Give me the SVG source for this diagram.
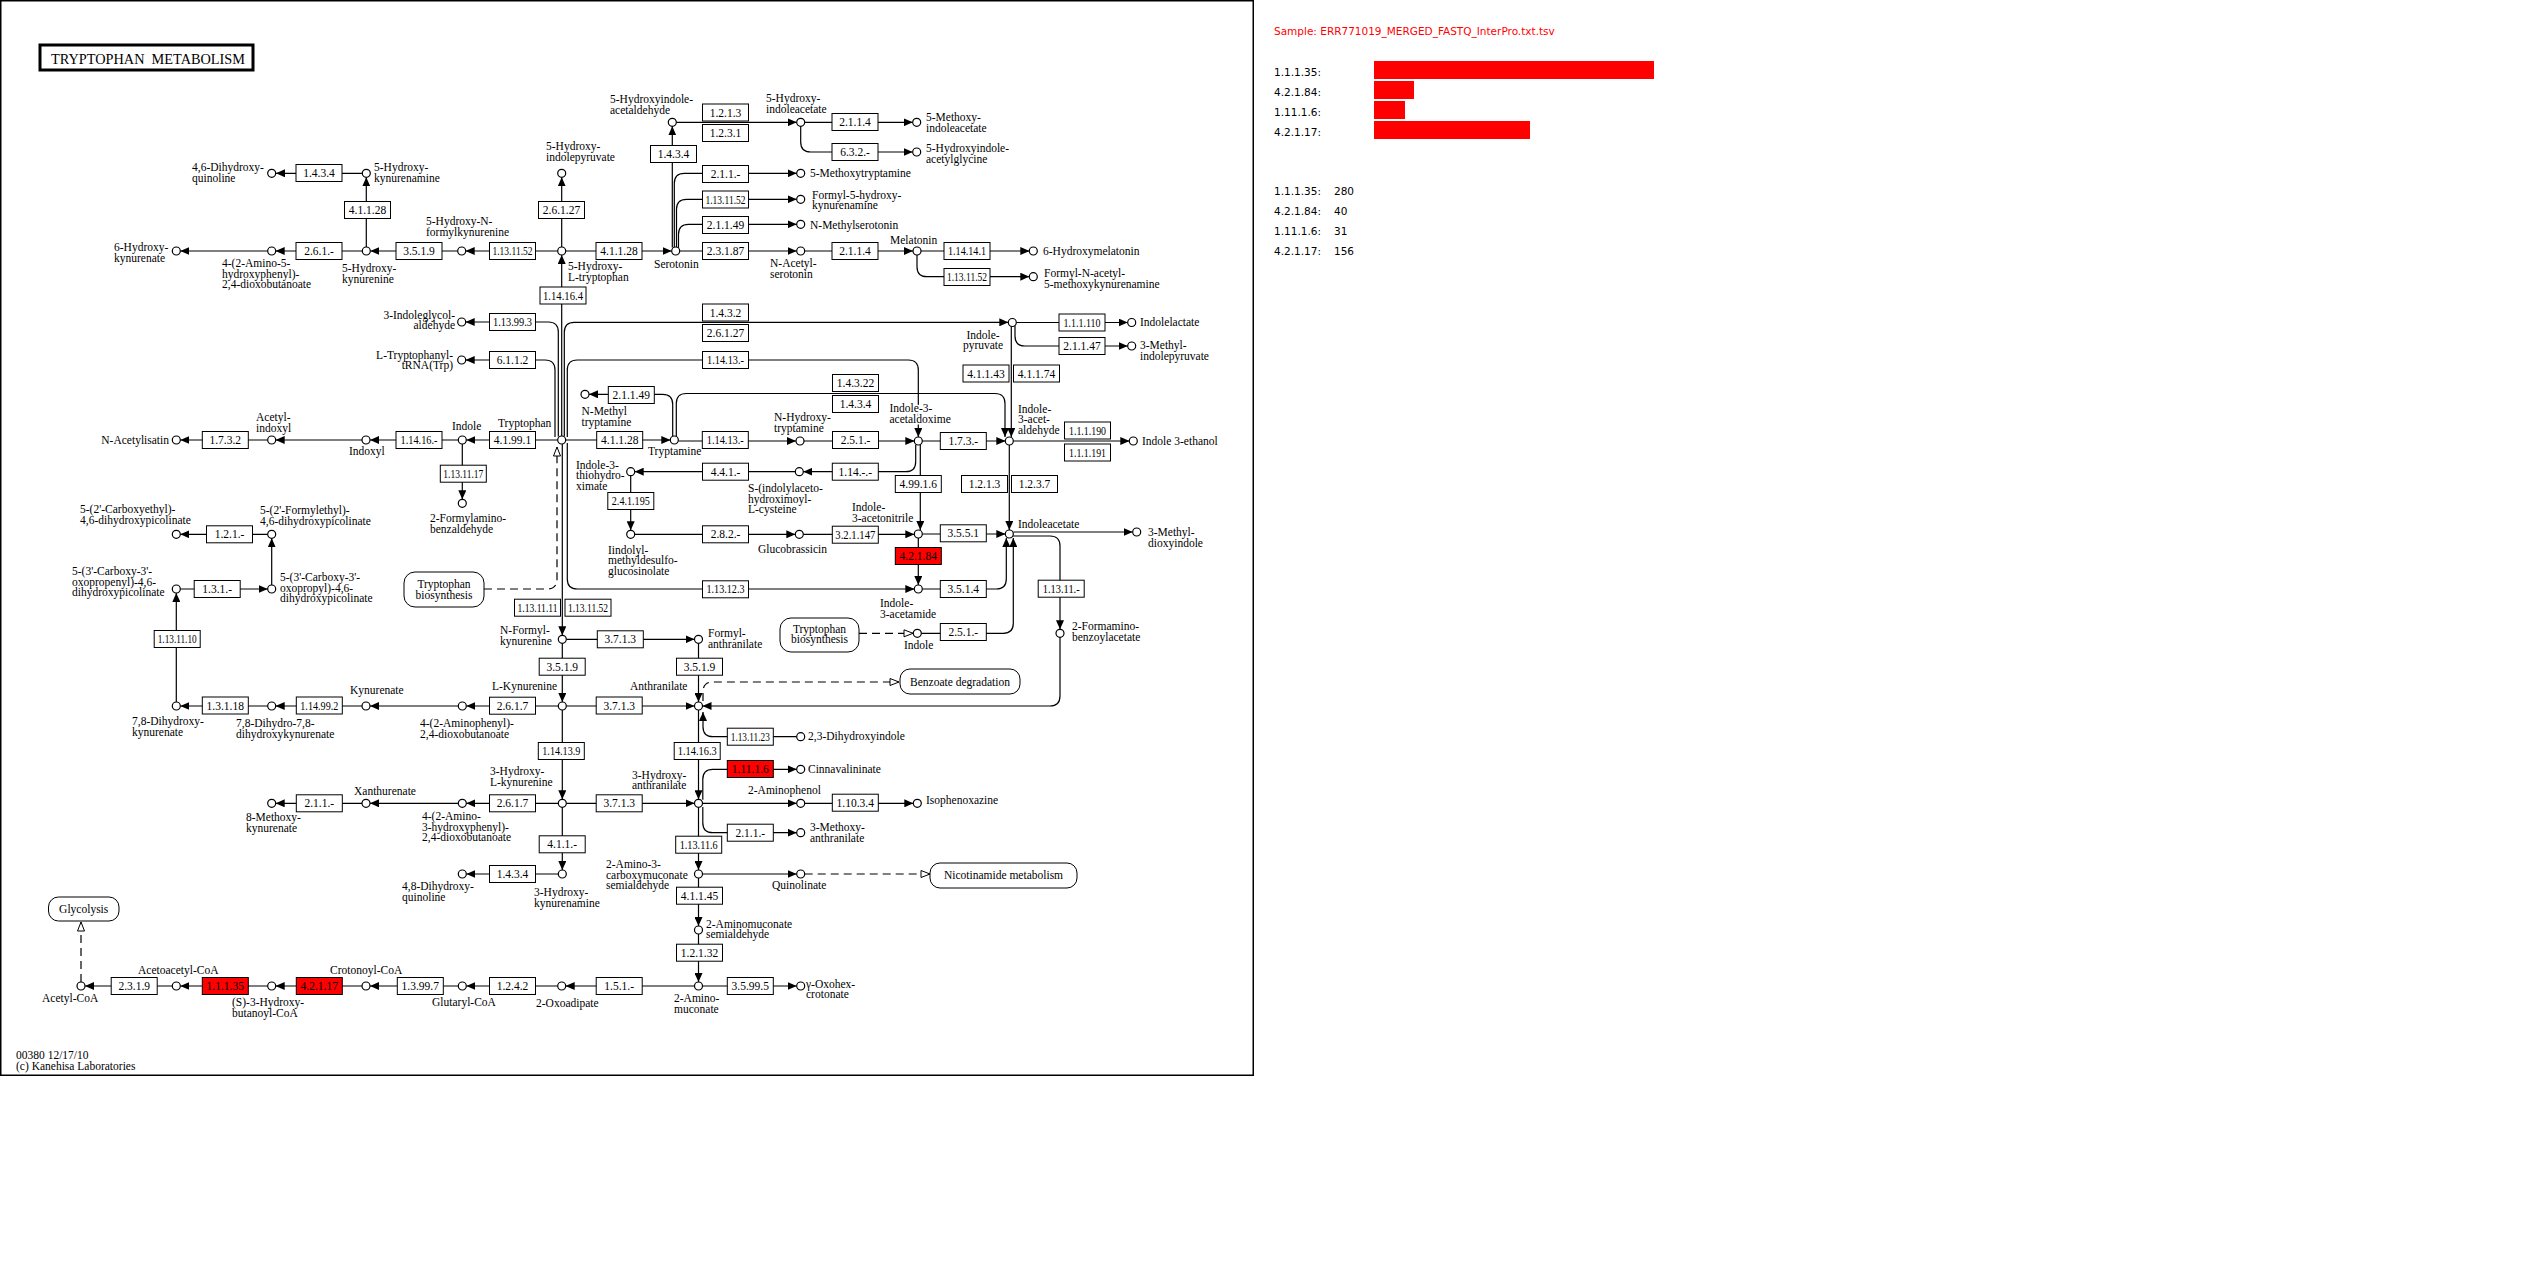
<svg xmlns="http://www.w3.org/2000/svg" width="2534" height="1276" viewBox="0 0 2534 1276">
<defs>
<style>
text{font-family:"Liberation Serif","Times New Roman",serif;font-size:11.5px;fill:#000}
.b rect{fill:#fff;stroke:#000;stroke-width:1}
.b text{text-anchor:middle}
.rd rect{fill:#f00}
.c circle{fill:#fff;stroke:#000;stroke-width:1.2}
.l path{fill:none;stroke:#000;stroke-width:1.2}
.l path.d{stroke-dasharray:8 5}
.m rect{fill:#fff;stroke:#000;stroke-width:1}
.m text{text-anchor:middle}
.h{stroke:#fff;stroke-width:3;paint-order:stroke}
.p text{font-family:"DejaVu Sans",sans-serif;font-size:10.5px}
</style>
<marker id="a" viewBox="0 0 9 8" refX="9" refY="4" markerWidth="9" markerHeight="8" markerUnits="userSpaceOnUse" orient="auto"><path d="M0,0L9,4L0,8z" fill="#000"/></marker>
<marker id="o" viewBox="0 0 11 9" refX="10" refY="4.5" markerWidth="11" markerHeight="9" markerUnits="userSpaceOnUse" orient="auto"><path d="M1,1L10,4.5L1,8z" fill="#fff" stroke="#000" stroke-width="1"/></marker>
</defs>
<rect width="2534" height="1276" fill="#fff"/>
<rect x="0.75" y="0.75" width="1252.5" height="1074.5" fill="none" stroke="#000" stroke-width="1.5"/>
<g id="title"><rect x="40" y="45" width="213" height="25" fill="#fff" stroke="#000" stroke-width="3"/><text x="51" y="63.5" style="font-size:14px" textLength="194" lengthAdjust="spacingAndGlyphs" xml:space="preserve">TRYPTOPHAN  METABOLISM</text></g>

<g id="connectors" class="l" marker-end="url(#a)">
<path d="M362,173.3H276"/>
<path d="M366.3,247V177.3"/>
<path d="M457.7,251H370.3"/>
<path d="M362.3,251H275.7"/>
<path d="M267.7,251H180.3"/>
<path d="M557.7,251H465.7"/>
<path d="M561.7,247V177.3"/>
<path d="M565.7,251H671.7"/>
<path d="M672.3,247.5V126.3"/>
<path d="M676.3,122.3H796.7"/>
<path d="M804.7,122.3H912.7"/>
<path d="M800.7,126.3V142Q800.7,152 810.7,152H912.7"/>
<path d="M674.3,247.3V183.3Q674.3,173.3 684.3,173.3H796.7"/>
<path d="M676.5,247.2V209.3Q676.5,199.3 686.5,199.3H796.7"/>
<path d="M678.5,248V234.3Q678.5,224.3 688.5,224.3H796.7"/>
<path d="M679.7,251H796.7"/>
<path d="M804.7,251H913"/>
<path d="M921,251H1029.3"/>
<path d="M917,255V266.7Q917,276.7 927,276.7H1029.3"/>
<path d="M558.3,436.5V332Q558.3,322 548.3,322H465.7"/>
<path d="M555,437V370Q555,360 545,360H465.7"/>
<path d="M561.7,436V255"/>
<path d="M564.3,436.5V332.3Q564.3,322.3 574.3,322.3H1008.3"/>
<path d="M567.3,437V370Q567.3,360 577.3,360H908.3Q918.3,360 918.3,370V437"/>
<path d="M567.3,443V579Q567.3,589 577.3,589H914.3"/>
<path d="M562.3,444V635.3"/>
<path class="d" d="M484,589H547Q557,589 557,579V447" marker-end="url(#o)"/>
<path d="M557.7,440H466.3"/>
<path d="M458.3,440H370"/>
<path d="M362,440H275.7"/>
<path d="M267.7,440H180.3"/>
<path d="M462.3,444V499.3"/>
<path d="M565.7,440H670.3"/>
<path d="M672.7,436.3V404.3Q672.7,394.3 662.7,394.3H589"/>
<path d="M676.3,436.3V403.5Q676.3,393.5 686.3,393.5H995Q1005,393.5 1005,403.5V437"/>
<path d="M678.3,441H796"/>
<path d="M804,441H914.3"/>
<path d="M922.3,441H1005.3"/>
<path d="M1011.3,326.5V437"/>
<path d="M1016.3,322.5H1127.7"/>
<path d="M1015,325.7V336Q1015,346 1025,346H1127.7"/>
<path d="M1013.3,441H1129.3"/>
<path d="M1009.3,445V530"/>
<path d="M915.7,444.7V461.7Q915.7,471.7 905.7,471.7H803.3"/>
<path d="M795.3,471.7H634.7"/>
<path d="M630.7,475.7V530.3"/>
<path d="M634.7,534.3H795.3"/>
<path d="M803.3,534.3H914.3"/>
<path d="M920.3,444.8V530"/>
<path d="M922.3,534H1005.3"/>
<path d="M918.3,538V585"/>
<path d="M922.3,589H996.3Q1006.3,589 1006.3,579V538"/>
<path d="M921.3,633.3H1003.3Q1013.3,633.3 1013.3,623.3V538"/>
<path d="M1013.3,532H1132.7"/>
<path d="M1013,536H1050Q1060,536 1060,546V629.3"/>
<path d="M1060,637.3V696Q1060,706 1050,706H702.5"/>
<path class="d" d="M859,633.3H913" marker-end="url(#o)"/>
<path class="d" d="M703,701V692Q703,682 713,682H899" marker-end="url(#o)"/>
<path d="M566.3,639.3H694.5"/>
<path d="M562.3,643.3V702"/>
<path d="M698.5,643.3V702"/>
<path d="M566.3,706H694.5"/>
<path d="M558.3,706H466.3"/>
<path d="M458.3,706H370"/>
<path d="M362,706H275.7"/>
<path d="M267.7,706H180.3"/>
<path d="M176.3,702V593"/>
<path d="M180.3,589H267.7"/>
<path d="M271.7,585V538.3"/>
<path d="M267.7,534.3H180.3"/>
<path d="M562.3,710V799.3"/>
<path d="M558.3,803.3H466.3"/>
<path d="M458.3,803.3H370"/>
<path d="M362,803.3H275.7"/>
<path d="M566.3,803.3H694.5"/>
<path d="M562.3,807.3V870"/>
<path d="M558.3,874H466.3"/>
<path d="M698.5,710V799.3"/>
<path d="M796.7,736.7H713Q703,736.7 703,726.7V712"/>
<path d="M702.8,799.7V779.3Q702.8,769.3 712.8,769.3H796.7"/>
<path d="M702.5,803.3H796.7"/>
<path d="M804.7,803.3H913.3"/>
<path d="M702.8,806.9V822.7Q702.8,832.7 712.8,832.7H796.7"/>
<path d="M698.5,807.3V870"/>
<path d="M702.5,874H796.7"/>
<path class="d" d="M804.7,874H930" marker-end="url(#o)"/>
<path d="M698.5,878V926"/>
<path d="M698.5,934V982"/>
<path d="M702.5,986H796.7"/>
<path d="M694.5,986H565.7"/>
<path d="M557.7,986H466.3"/>
<path d="M458.3,986H370"/>
<path d="M362,986H275.7"/>
<path d="M267.7,986H180.3"/>
<path d="M172.3,986H85"/>
<path class="d" d="M81,982V922" marker-end="url(#o)"/>
</g>

<g id="maps" class="m">
<g id="map-trpbio1"><rect x="404" y="572" width="80" height="35" rx="11"/><text x="444" y="588">Tryptophan<tspan x="444" dy="10.6">biosynthesis</tspan></text></g>
<g id="map-trpbio2"><rect x="780" y="618" width="79" height="34" rx="11"/><text x="819.5" y="632.5">Tryptophan<tspan x="819.5" dy="10.6">biosynthesis</tspan></text></g>
<g id="map-benzoate"><rect x="900" y="669" width="120" height="25" rx="10"/><text x="960" y="686">Benzoate degradation</text></g>
<g id="map-nicotinamide"><rect x="930" y="863" width="147" height="25" rx="10"/><text x="1003.5" y="879">Nicotinamide metabolism</text></g>
<g id="map-glycolysis"><rect x="48.5" y="897" width="70.5" height="24" rx="10"/><text x="83.7" y="912.5">Glycolysis</text></g>
</g>

<g id="enzymes">
<g id="e01" class="b"><rect x="296" y="164.5" width="46" height="17"/><text x="319" y="177">1.4.3.4</text></g>
<g id="e02" class="b"><rect x="344.5" y="201.5" width="46" height="17"/><text x="367.5" y="214">4.1.1.28</text></g>
<g id="e03" class="b"><rect x="296" y="242.5" width="46" height="17"/><text x="319" y="255">2.6.1.-</text></g>
<g id="e04" class="b"><rect x="396" y="242.5" width="46" height="17"/><text x="419" y="255">3.5.1.9</text></g>
<g id="e05" class="b"><rect x="489.5" y="242.5" width="46" height="17"/><text x="512.5" y="255" textLength="40" lengthAdjust="spacingAndGlyphs">1.13.11.52</text></g>
<g id="e06" class="b"><rect x="538.5" y="201.5" width="46" height="17"/><text x="561.5" y="214">2.6.1.27</text></g>
<g id="e07" class="b"><rect x="596" y="242.5" width="46" height="17"/><text x="619" y="255">4.1.1.28</text></g>
<g id="e08" class="b"><rect x="540" y="287" width="46" height="17"/><text x="563" y="299.5" textLength="40" lengthAdjust="spacingAndGlyphs">1.14.16.4</text></g>
<g id="e09" class="b"><rect x="650.5" y="145.5" width="46" height="17"/><text x="673.5" y="158">1.4.3.4</text></g>
<g id="e10" class="b"><rect x="702.5" y="104" width="46" height="17"/><text x="725.5" y="116.5">1.2.1.3</text></g>
<g id="e11" class="b"><rect x="702.5" y="124.5" width="46" height="17"/><text x="725.5" y="137">1.2.3.1</text></g>
<g id="e12" class="b"><rect x="832" y="113.5" width="46" height="17"/><text x="855" y="126">2.1.1.4</text></g>
<g id="e13" class="b"><rect x="832" y="143.5" width="46" height="17"/><text x="855" y="156">6.3.2.-</text></g>
<g id="e14" class="b"><rect x="702.5" y="165.5" width="46" height="17"/><text x="725.5" y="178">2.1.1.-</text></g>
<g id="e15" class="b"><rect x="702.5" y="191" width="46" height="17"/><text x="725.5" y="203.5" textLength="40" lengthAdjust="spacingAndGlyphs">1.13.11.52</text></g>
<g id="e16" class="b"><rect x="702.5" y="216.5" width="46" height="17"/><text x="725.5" y="229">2.1.1.49</text></g>
<g id="e17" class="b"><rect x="702.5" y="242.5" width="46" height="17"/><text x="725.5" y="255">2.3.1.87</text></g>
<g id="e18" class="b"><rect x="832" y="242.5" width="46" height="17"/><text x="855" y="255">2.1.1.4</text></g>
<g id="e19" class="b"><rect x="944" y="242.5" width="46" height="17"/><text x="967" y="255" textLength="38" lengthAdjust="spacingAndGlyphs">1.14.14.1</text></g>
<g id="e20" class="b"><rect x="944" y="268.5" width="46" height="17"/><text x="967" y="281" textLength="40" lengthAdjust="spacingAndGlyphs">1.13.11.52</text></g>
<g id="e21" class="b"><rect x="489.5" y="313.5" width="46" height="17"/><text x="512.5" y="326" textLength="39" lengthAdjust="spacingAndGlyphs">1.13.99.3</text></g>
<g id="e22" class="b"><rect x="489.5" y="351.5" width="46" height="17"/><text x="512.5" y="364">6.1.1.2</text></g>
<g id="e23" class="b"><rect x="702.5" y="304" width="46" height="17"/><text x="725.5" y="316.5">1.4.3.2</text></g>
<g id="e24" class="b"><rect x="702.5" y="324.5" width="46" height="17"/><text x="725.5" y="337">2.6.1.27</text></g>
<g id="e25" class="b"><rect x="702.5" y="351.5" width="46" height="17"/><text x="725.5" y="364" textLength="37" lengthAdjust="spacingAndGlyphs">1.14.13.-</text></g>
<g id="e26" class="b"><rect x="1059" y="314" width="46" height="17"/><text x="1082" y="326.5" textLength="37" lengthAdjust="spacingAndGlyphs">1.1.1.110</text></g>
<g id="e27" class="b"><rect x="1059" y="337.5" width="46" height="17"/><text x="1082" y="350">2.1.1.47</text></g>
<g id="e28" class="b"><rect x="963" y="365" width="46" height="17"/><text x="986" y="377.5">4.1.1.43</text></g>
<g id="e29" class="b"><rect x="1013.5" y="365" width="46" height="17"/><text x="1036.5" y="377.5">4.1.1.74</text></g>
<g id="e30" class="b"><rect x="489.5" y="431.5" width="46" height="17"/><text x="512.5" y="444">4.1.99.1</text></g>
<g id="e31" class="b"><rect x="396" y="431.5" width="46" height="17"/><text x="419" y="444" textLength="37" lengthAdjust="spacingAndGlyphs">1.14.16.-</text></g>
<g id="e32" class="b"><rect x="202.3" y="431.5" width="46" height="17"/><text x="225.3" y="444">1.7.3.2</text></g>
<g id="e33" class="b"><rect x="440.3" y="465.2" width="46" height="17"/><text x="463.3" y="477.7" textLength="40" lengthAdjust="spacingAndGlyphs">1.13.11.17</text></g>
<g id="e34" class="b"><rect x="608.3" y="386.5" width="46" height="17"/><text x="631.3" y="399">2.1.1.49</text></g>
<g id="e35" class="b"><rect x="596.7" y="431.5" width="46" height="17"/><text x="619.7" y="444">4.1.1.28</text></g>
<g id="e36" class="b"><rect x="832.5" y="374.5" width="46" height="17"/><text x="855.5" y="387">1.4.3.22</text></g>
<g id="e37" class="b"><rect x="832.5" y="395.5" width="46" height="17"/><text x="855.5" y="408">1.4.3.4</text></g>
<g id="e38" class="b"><rect x="702.3" y="431.5" width="46" height="17"/><text x="725.3" y="444" textLength="37" lengthAdjust="spacingAndGlyphs">1.14.13.-</text></g>
<g id="e39" class="b"><rect x="832.5" y="431.5" width="46" height="17"/><text x="855.5" y="444">2.5.1.-</text></g>
<g id="e40" class="b"><rect x="940.3" y="432.5" width="46" height="17"/><text x="963.3" y="445">1.7.3.-</text></g>
<g id="e41" class="b"><rect x="1064.5" y="422" width="46" height="17"/><text x="1087.5" y="434.5" textLength="37" lengthAdjust="spacingAndGlyphs">1.1.1.190</text></g>
<g id="e42" class="b"><rect x="1064.5" y="444" width="46" height="17"/><text x="1087.5" y="456.5" textLength="37" lengthAdjust="spacingAndGlyphs">1.1.1.191</text></g>
<g id="e43" class="b"><rect x="832.3" y="463.2" width="46" height="17"/><text x="855.3" y="475.7">1.14.-.-</text></g>
<g id="e44" class="b"><rect x="702.5" y="463.2" width="46" height="17"/><text x="725.5" y="475.7">4.4.1.-</text></g>
<g id="e45" class="b"><rect x="607.8" y="492.5" width="46" height="17"/><text x="630.8" y="505" textLength="38" lengthAdjust="spacingAndGlyphs">2.4.1.195</text></g>
<g id="e46" class="b"><rect x="895.3" y="475.5" width="46" height="17"/><text x="918.3" y="488">4.99.1.6</text></g>
<g id="e47" class="b"><rect x="961.5" y="475.5" width="46" height="17"/><text x="984.5" y="488">1.2.1.3</text></g>
<g id="e48" class="b"><rect x="1011.5" y="475.5" width="46" height="17"/><text x="1034.5" y="488">1.2.3.7</text></g>
<g id="e49" class="b"><rect x="702.5" y="525.8" width="46" height="17"/><text x="725.5" y="538.3">2.8.2.-</text></g>
<g id="e50" class="b"><rect x="832.3" y="526.2" width="46" height="17"/><text x="855.3" y="538.7" textLength="40" lengthAdjust="spacingAndGlyphs">3.2.1.147</text></g>
<g id="e51" class="b"><rect x="940.3" y="524.8" width="46" height="17"/><text x="963.3" y="537.3">3.5.5.1</text></g>
<g id="e52" class="b rd"><rect x="895.3" y="547.5" width="46" height="17"/><text x="918.3" y="560">4.2.1.84</text></g>
<g id="e53" class="b"><rect x="940.3" y="580.5" width="46" height="17"/><text x="963.3" y="593">3.5.1.4</text></g>
<g id="e54" class="b"><rect x="702.5" y="580.8" width="46" height="17"/><text x="725.5" y="593.3" textLength="38" lengthAdjust="spacingAndGlyphs">1.13.12.3</text></g>
<g id="e55" class="b"><rect x="940.3" y="623.5" width="46" height="17"/><text x="963.3" y="636">2.5.1.-</text></g>
<g id="e56" class="b"><rect x="1038.2" y="580.2" width="46" height="17"/><text x="1061.2" y="592.7" textLength="37" lengthAdjust="spacingAndGlyphs">1.13.11.-</text></g>
<g id="e57" class="b"><rect x="206.5" y="525.8" width="46" height="17"/><text x="229.5" y="538.3">1.2.1.-</text></g>
<g id="e58" class="b"><rect x="194.2" y="580.5" width="46" height="17"/><text x="217.2" y="593">1.3.1.-</text></g>
<g id="e59" class="b"><rect x="154.2" y="630.5" width="46" height="17"/><text x="177.2" y="643" textLength="39" lengthAdjust="spacingAndGlyphs">1.13.11.10</text></g>
<g id="e60" class="b"><rect x="202.3" y="697" width="46" height="17"/><text x="225.3" y="709.5">1.3.1.18</text></g>
<g id="e61" class="b"><rect x="296.3" y="697" width="46" height="17"/><text x="319.3" y="709.5" textLength="38" lengthAdjust="spacingAndGlyphs">1.14.99.2</text></g>
<g id="e62" class="b"><rect x="489.5" y="697.2" width="46" height="17"/><text x="512.5" y="709.7">2.6.1.7</text></g>
<g id="e63" class="b"><rect x="514.5" y="599.2" width="46" height="17"/><text x="537.5" y="611.7" textLength="40" lengthAdjust="spacingAndGlyphs">1.13.11.11</text></g>
<g id="e64" class="b"><rect x="565" y="599.2" width="46" height="17"/><text x="588" y="611.7" textLength="40" lengthAdjust="spacingAndGlyphs">1.13.11.52</text></g>
<g id="e65" class="b"><rect x="539.2" y="658.2" width="46" height="17"/><text x="562.2" y="670.7">3.5.1.9</text></g>
<g id="e66" class="b"><rect x="597.3" y="630.8" width="46" height="17"/><text x="620.3" y="643.3">3.7.1.3</text></g>
<g id="e67" class="b"><rect x="676.5" y="658.2" width="46" height="17"/><text x="699.5" y="670.7">3.5.1.9</text></g>
<g id="e68" class="b"><rect x="596.2" y="697" width="46" height="17"/><text x="619.2" y="709.5">3.7.1.3</text></g>
<g id="e69" class="b"><rect x="538.3" y="742.5" width="46" height="17"/><text x="561.3" y="755" textLength="38" lengthAdjust="spacingAndGlyphs">1.14.13.9</text></g>
<g id="e70" class="b"><rect x="674.2" y="742.5" width="46" height="17"/><text x="697.2" y="755" textLength="39" lengthAdjust="spacingAndGlyphs">1.14.16.3</text></g>
<g id="e71" class="b"><rect x="727.3" y="728.2" width="46" height="17"/><text x="750.3" y="740.7" textLength="39" lengthAdjust="spacingAndGlyphs">1.13.11.23</text></g>
<g id="e72" class="b rd"><rect x="727.3" y="760.5" width="46" height="17"/><text x="750.3" y="773">1.11.1.6</text></g>
<g id="e73" class="b"><rect x="489.5" y="794.8" width="46" height="17"/><text x="512.5" y="807.3">2.6.1.7</text></g>
<g id="e74" class="b"><rect x="296.3" y="794.8" width="46" height="17"/><text x="319.3" y="807.3">2.1.1.-</text></g>
<g id="e75" class="b"><rect x="596.2" y="794.8" width="46" height="17"/><text x="619.2" y="807.3">3.7.1.3</text></g>
<g id="e76" class="b"><rect x="832.3" y="794.2" width="46" height="17"/><text x="855.3" y="806.7">1.10.3.4</text></g>
<g id="e77" class="b"><rect x="727.3" y="824.2" width="46" height="17"/><text x="750.3" y="836.7">2.1.1.-</text></g>
<g id="e78" class="b"><rect x="539.2" y="835.8" width="46" height="17"/><text x="562.2" y="848.3">4.1.1.-</text></g>
<g id="e79" class="b"><rect x="675.7" y="836.2" width="46" height="17"/><text x="698.7" y="848.7" textLength="38" lengthAdjust="spacingAndGlyphs">1.13.11.6</text></g>
<g id="e80" class="b"><rect x="489.5" y="865.5" width="46" height="17"/><text x="512.5" y="878">1.4.3.4</text></g>
<g id="e81" class="b"><rect x="676.5" y="887.2" width="46" height="17"/><text x="699.5" y="899.7">4.1.1.45</text></g>
<g id="e82" class="b"><rect x="676.5" y="944.2" width="46" height="17"/><text x="699.5" y="956.7">1.2.1.32</text></g>
<g id="e83" class="b"><rect x="727.3" y="977.5" width="46" height="17"/><text x="750.3" y="990">3.5.99.5</text></g>
<g id="e84" class="b"><rect x="596.2" y="977.5" width="46" height="17"/><text x="619.2" y="990">1.5.1.-</text></g>
<g id="e85" class="b"><rect x="489.5" y="977.5" width="46" height="17"/><text x="512.5" y="990">1.2.4.2</text></g>
<g id="e86" class="b"><rect x="397.3" y="977.5" width="46" height="17"/><text x="420.3" y="990">1.3.99.7</text></g>
<g id="e87" class="b rd"><rect x="296.3" y="977.5" width="46" height="17"/><text x="319.3" y="990">4.2.1.17</text></g>
<g id="e88" class="b rd"><rect x="202.3" y="977.5" width="46" height="17"/><text x="225.3" y="990">1.1.1.35</text></g>
<g id="e89" class="b"><rect x="111.2" y="977.5" width="46" height="17"/><text x="134.2" y="990">2.3.1.9</text></g>
</g>

<g id="compounds" class="c">
<g id="c01"><circle cx="271.7" cy="173.3" r="4"/><text x="192" y="171">4,6-Dihydroxy-<tspan x="192" dy="10.6">quinoline</tspan></text></g>
<g id="c02"><circle cx="366.3" cy="173.3" r="4"/><text x="374" y="171">5-Hydroxy-<tspan x="374" dy="10.6">kynurenamine</tspan></text></g>
<g id="c03"><circle cx="176.3" cy="251" r="4"/><text x="114" y="251">6-Hydroxy-<tspan x="114" dy="10.6">kynurenate</tspan></text></g>
<g id="c04"><circle cx="271.7" cy="251" r="4"/><text x="222" y="267">4-(2-Amino-5-<tspan x="222" dy="10.6">hydroxyphenyl)-</tspan><tspan x="222" dy="10.6">2,4-dioxobutanoate</tspan></text></g>
<g id="c05"><circle cx="366.3" cy="251" r="4"/><text x="342" y="272">5-Hydroxy-<tspan x="342" dy="10.6">kynurenine</tspan></text></g>
<g id="c06"><circle cx="461.7" cy="251" r="4"/><text x="426" y="225">5-Hydroxy-N-<tspan x="426" dy="10.6">formylkynurenine</tspan></text></g>
<g id="c07"><circle cx="561.7" cy="251" r="4"/><text x="568" y="270">5-Hydroxy-<tspan x="568" dy="10.6">L-tryptophan</tspan></text></g>
<g id="c08"><circle cx="561.7" cy="173.3" r="4"/><text x="546" y="150">5-Hydroxy-<tspan x="546" dy="10.6">indolepyruvate</tspan></text></g>
<g id="c09"><circle cx="672.3" cy="122.3" r="4"/><text x="610" y="103">5-Hydroxyindole-<tspan x="610" dy="10.6">acetaldehyde</tspan></text></g>
<g id="c10"><circle cx="800.7" cy="122.3" r="4"/><text x="766" y="102">5-Hydroxy-<tspan x="766" dy="10.6">indoleacetate</tspan></text></g>
<g id="c11"><circle cx="916.7" cy="122.3" r="4"/><text x="926" y="121">5-Methoxy-<tspan x="926" dy="10.6">indoleacetate</tspan></text></g>
<g id="c12"><circle cx="916.7" cy="152" r="4"/><text x="926" y="152">5-Hydroxyindole-<tspan x="926" dy="10.6">acetylglycine</tspan></text></g>
<g id="c13"><circle cx="800.7" cy="173.3" r="4"/><text x="810" y="177">5-Methoxytryptamine</text></g>
<g id="c14"><circle cx="800.7" cy="199.3" r="4"/><text x="812" y="198.5">Formyl-5-hydroxy-<tspan x="812" dy="10.6">kynurenamine</tspan></text></g>
<g id="c15"><circle cx="800.7" cy="224.3" r="4"/><text x="810" y="228.5">N-Methylserotonin</text></g>
<g id="c16"><circle cx="675.7" cy="251" r="4"/><text x="654" y="268">Serotonin</text></g>
<g id="c17"><circle cx="800.7" cy="251" r="4"/><text x="770" y="267">N-Acetyl-<tspan x="770" dy="10.6">serotonin</tspan></text></g>
<g id="c18"><circle cx="917" cy="251" r="4"/><text x="890" y="243.5">Melatonin</text></g>
<g id="c19"><circle cx="1033.3" cy="251" r="4"/><text x="1043" y="255">6-Hydroxymelatonin</text></g>
<g id="c20"><circle cx="1033.3" cy="276.7" r="4"/><text x="1044" y="277">Formyl-N-acetyl-<tspan x="1044" dy="10.6">5-methoxykynurenamine</tspan></text></g>
<g id="c21"><circle cx="461.7" cy="322" r="4"/><text x="455" y="318.5" text-anchor="end">3-Indoleglycol-<tspan x="455" dy="10.6">aldehyde</tspan></text></g>
<g id="c22"><circle cx="461.7" cy="360" r="4"/><text x="453" y="358.5" text-anchor="end">L-Tryptophanyl-<tspan x="453" dy="10.6">tRNA(Trp)</tspan></text></g>
<g id="c23"><circle cx="1012.3" cy="322.5" r="4"/><text x="983" y="338.5" text-anchor="middle">Indole-<tspan x="983" dy="10.6">pyruvate</tspan></text></g>
<g id="c24"><circle cx="1131.7" cy="322.5" r="4"/><text x="1140" y="326">Indolelactate</text></g>
<g id="c25"><circle cx="1131.7" cy="346" r="4"/><text x="1140" y="349">3-Methyl-<tspan x="1140" dy="10.6">indolepyruvate</tspan></text></g>
<g id="c26"><circle cx="561.7" cy="440" r="4"/><text x="498" y="427">Tryptophan</text></g>
<g id="c27"><circle cx="462.3" cy="440" r="4"/><text x="452" y="430">Indole</text></g>
<g id="c28"><circle cx="366" cy="440" r="4"/><text x="349" y="454.5">Indoxyl</text></g>
<g id="c29"><circle cx="271.7" cy="440" r="4"/><text x="256" y="421">Acetyl-<tspan x="256" dy="10.6">indoxyl</tspan></text></g>
<g id="c30"><circle cx="176.3" cy="440" r="4"/><text x="169" y="443.5" text-anchor="end">N-Acetylisatin</text></g>
<g id="c31"><circle cx="462.3" cy="503.3" r="4"/><text x="430" y="522">2-Formylamino-<tspan x="430" dy="10.6">benzaldehyde</tspan></text></g>
<g id="c32"><circle cx="585" cy="394.3" r="4"/><text x="581.5" y="415">N-Methyl<tspan x="581.5" dy="10.6">tryptamine</tspan></text></g>
<g id="c33"><circle cx="674.3" cy="440" r="4"/><text x="648" y="455">Tryptamine</text></g>
<g id="c34"><circle cx="800" cy="441" r="4"/><text x="774" y="421">N-Hydroxy-<tspan x="774" dy="10.6">tryptamine</tspan></text></g>
<g id="c35"><circle cx="918.3" cy="441" r="4"/><text class="h" x="889.5" y="412">Indole-3-<tspan x="889.5" dy="10.6">acetaldoxime</tspan></text></g>
<g id="c36"><circle cx="1009.3" cy="441" r="4"/><text x="1018" y="412.5">Indole-<tspan x="1018" dy="10.6">3-acet-</tspan><tspan x="1018" dy="10.6">aldehyde</tspan></text></g>
<g id="c37"><circle cx="1133.3" cy="441" r="4"/><text x="1142" y="444.5">Indole 3-ethanol</text></g>
<g id="c38"><circle cx="799.3" cy="471.7" r="4"/><text x="748" y="492">S-(indolylaceto-<tspan x="748" dy="10.6">hydroximoyl-</tspan><tspan x="748" dy="10.6">L-cysteine</tspan></text></g>
<g id="c39"><circle cx="630.7" cy="471.7" r="4"/><text x="576" y="468.5">Indole-3-<tspan x="576" dy="10.6">thiohydro-</tspan><tspan x="576" dy="10.6">ximate</tspan></text></g>
<g id="c40"><circle cx="630.7" cy="534.3" r="4"/><text x="608" y="553.5">Iindolyl-<tspan x="608" dy="10.6">methyldesulfo-</tspan><tspan x="608" dy="10.6">glucosinolate</tspan></text></g>
<g id="c41"><circle cx="799.3" cy="534.3" r="4"/><text x="758" y="552.5">Glucobrassicin</text></g>
<g id="c42"><circle cx="918.3" cy="534" r="4"/><text x="852" y="511">Indole-<tspan x="852" dy="10.6">3-acetonitrile</tspan></text></g>
<g id="c43"><circle cx="1009.3" cy="534" r="4"/><text x="1018" y="527.5">Indoleacetate</text></g>
<g id="c44"><circle cx="1136.7" cy="532" r="4"/><text x="1148" y="536">3-Methyl-<tspan x="1148" dy="10.6">dioxyindole</tspan></text></g>
<g id="c45"><circle cx="918.3" cy="589" r="4"/><text x="880" y="607">Indole-<tspan x="880" dy="10.6">3-acetamide</tspan></text></g>
<g id="c46"><circle cx="917.3" cy="633.3" r="4"/><text x="904" y="649">Indole</text></g>
<g id="c47"><circle cx="1060" cy="633.3" r="4"/><text x="1072" y="630">2-Formamino-<tspan x="1072" dy="10.6">benzoylacetate</tspan></text></g>
<g id="c48"><circle cx="176.3" cy="534.3" r="4"/><text x="80" y="513">5-(2'-Carboxyethyl)-<tspan x="80" dy="10.6">4,6-dihydroxypicolinate</tspan></text></g>
<g id="c49"><circle cx="271.7" cy="534.3" r="4"/><text x="260" y="514">5-(2'-Formylethyl)-<tspan x="260" dy="10.6">4,6-dihydroxypicolinate</tspan></text></g>
<g id="c50"><circle cx="176.3" cy="589" r="4"/><text x="72" y="575">5-(3'-Carboxy-3'-<tspan x="72" dy="10.6">oxopropenyl)-4,6-</tspan><tspan x="72" dy="10.6">dihydroxypicolinate</tspan></text></g>
<g id="c51"><circle cx="271.7" cy="589" r="4"/><text x="280" y="581">5-(3'-Carboxy-3'-<tspan x="280" dy="10.6">oxopropyl)-4,6-</tspan><tspan x="280" dy="10.6">dihydroxypicolinate</tspan></text></g>
<g id="c52"><circle cx="562.3" cy="639.3" r="4"/><text x="500" y="634">N-Formyl-<tspan x="500" dy="10.6">kynurenine</tspan></text></g>
<g id="c53"><circle cx="698.5" cy="639.3" r="4"/><text x="708" y="637">Formyl-<tspan x="708" dy="10.6">anthranilate</tspan></text></g>
<g id="c54"><circle cx="562.3" cy="706" r="4"/><text x="492" y="689.5">L-Kynurenine</text></g>
<g id="c55"><circle cx="698.5" cy="706" r="4"/><text x="630" y="690">Anthranilate</text></g>
<g id="c56"><circle cx="462.3" cy="706" r="4"/><text x="420" y="727">4-(2-Aminophenyl)-<tspan x="420" dy="10.6">2,4-dioxobutanoate</tspan></text></g>
<g id="c57"><circle cx="366" cy="706" r="4"/><text x="350" y="693.5">Kynurenate</text></g>
<g id="c58"><circle cx="271.7" cy="706" r="4"/><text x="236" y="727">7,8-Dihydro-7,8-<tspan x="236" dy="10.6">dihydroxykynurenate</tspan></text></g>
<g id="c59"><circle cx="176.3" cy="706" r="4"/><text x="132" y="725">7,8-Dihydroxy-<tspan x="132" dy="10.6">kynurenate</tspan></text></g>
<g id="c60"><circle cx="800.7" cy="736.7" r="4"/><text x="808" y="740">2,3-Dihydroxyindole</text></g>
<g id="c61"><circle cx="800.7" cy="769.3" r="4"/><text x="808" y="772.5">Cinnavalininate</text></g>
<g id="c62"><circle cx="562.3" cy="803.3" r="4"/><text x="490" y="775">3-Hydroxy-<tspan x="490" dy="10.6">L-kynurenine</tspan></text></g>
<g id="c63"><circle cx="462.3" cy="803.3" r="4"/><text x="422" y="820">4-(2-Amino-<tspan x="422" dy="10.6">3-hydroxyphenyl)-</tspan><tspan x="422" dy="10.6">2,4-dioxobutanoate</tspan></text></g>
<g id="c64"><circle cx="366" cy="803.3" r="4"/><text x="354" y="794.5">Xanthurenate</text></g>
<g id="c65"><circle cx="271.7" cy="803.3" r="4"/><text x="246" y="821">8-Methoxy-<tspan x="246" dy="10.6">kynurenate</tspan></text></g>
<g id="c66"><circle cx="698.5" cy="803.3" r="4"/><text x="632" y="778.5">3-Hydroxy-<tspan x="632" dy="10.6">anthranilate</tspan></text></g>
<g id="c67"><circle cx="800.7" cy="803.3" r="4"/><text x="748" y="793.5">2-Aminophenol</text></g>
<g id="c68"><circle cx="917.3" cy="803.3" r="4"/><text x="926" y="804">Isophenoxazine</text></g>
<g id="c69"><circle cx="800.7" cy="832.7" r="4"/><text x="810" y="831">3-Methoxy-<tspan x="810" dy="10.6">anthranilate</tspan></text></g>
<g id="c70"><circle cx="562.3" cy="874" r="4"/><text x="534" y="896">3-Hydroxy-<tspan x="534" dy="10.6">kynurenamine</tspan></text></g>
<g id="c71"><circle cx="462.3" cy="874" r="4"/><text x="402" y="890">4,8-Dihydroxy-<tspan x="402" dy="10.6">quinoline</tspan></text></g>
<g id="c72"><circle cx="698.5" cy="874" r="4"/><text x="606" y="868">2-Amino-3-<tspan x="606" dy="10.6">carboxymuconate</tspan><tspan x="606" dy="10.6">semialdehyde</tspan></text></g>
<g id="c73"><circle cx="800.7" cy="874" r="4"/><text x="772" y="889">Quinolinate</text></g>
<g id="c74"><circle cx="698.5" cy="930" r="4"/><text x="706" y="927.5">2-Aminomuconate<tspan x="706" dy="10.6">semialdehyde</tspan></text></g>
<g id="c75"><circle cx="698.5" cy="986" r="4"/><text x="674" y="1002">2-Amino-<tspan x="674" dy="10.6">muconate</tspan></text></g>
<g id="c76"><circle cx="800.7" cy="986" r="4"/><text x="806" y="987.5">γ-Oxohex-<tspan x="806" dy="10.6">crotonate</tspan></text></g>
<g id="c77"><circle cx="561.7" cy="986" r="4"/><text x="536" y="1007">2-Oxoadipate</text></g>
<g id="c78"><circle cx="462.3" cy="986" r="4"/><text x="432" y="1006">Glutaryl-CoA</text></g>
<g id="c79"><circle cx="366" cy="986" r="4"/><text x="330" y="973.5">Crotonoyl-CoA</text></g>
<g id="c80"><circle cx="271.7" cy="986" r="4"/><text x="232" y="1006">(S)-3-Hydroxy-<tspan x="232" dy="10.6">butanoyl-CoA</tspan></text></g>
<g id="c81"><circle cx="176.3" cy="986" r="4"/><text x="138" y="973.5">Acetoacetyl-CoA</text></g>
<g id="c82"><circle cx="81" cy="986" r="4"/><text x="42" y="1002">Acetyl-CoA</text></g>
</g>

<g id="footer"><text x="16" y="1058.5">00380 12/17/10</text><text x="16" y="1069.5">(c) Kanehisa Laboratories</text></g>

<g id="legend" class="p">
<text x="1274" y="34.5" style="fill:#f00">Sample: ERR771019_MERGED_FASTQ_InterPro.txt.tsv</text>
<text x="1274" y="75.5">1.1.1.35:</text>
<text x="1274" y="95.5">4.2.1.84:</text>
<text x="1274" y="115.5">1.11.1.6:</text>
<text x="1274" y="135.5">4.2.1.17:</text>
<rect x="1374" y="61" width="280" height="18" fill="#f00"/>
<rect x="1374" y="81" width="40" height="18" fill="#f00"/>
<rect x="1374" y="101" width="31" height="18" fill="#f00"/>
<rect x="1374" y="121" width="156" height="18" fill="#f00"/>
<text x="1274" y="195">1.1.1.35:</text><text x="1334" y="195">280</text>
<text x="1274" y="215">4.2.1.84:</text><text x="1334" y="215">40</text>
<text x="1274" y="235">1.11.1.6:</text><text x="1334" y="235">31</text>
<text x="1274" y="255">4.2.1.17:</text><text x="1334" y="255">156</text>
</g>
</svg>
